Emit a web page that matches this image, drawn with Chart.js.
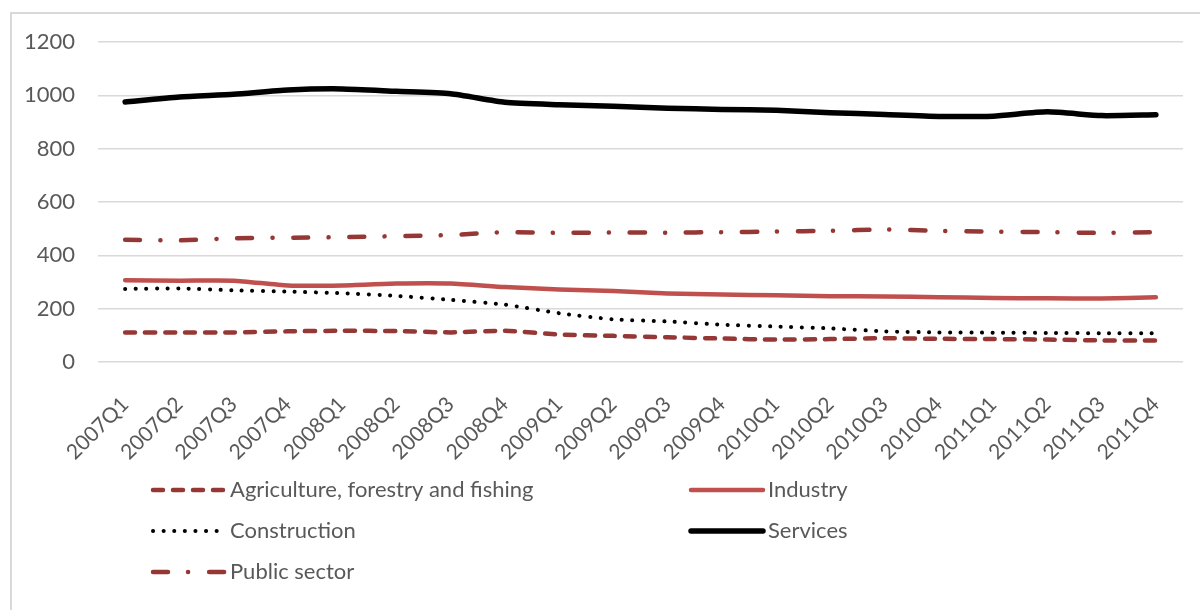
<!DOCTYPE html>
<html>
<head>
<meta charset="utf-8">
<script src="https://cdn.jsdelivr.net/npm/chart.js@4.4.1/dist/chart.umd.min.js"></script>
<style>
  html, body { margin: 0; padding: 0; background: #fff; }
  #frame { position: absolute; left: 10px; top: 12px; width: 1190px; height: 598px;
           border-left: 2px solid #d9d9d9; border-top: 2px solid #d9d9d9; }
  #wrap { position: absolute; left: 0; top: 0; width: 1200px; height: 610px; }
</style>
</head>
<body>
<div id="frame"></div>
<div id="wrap"><canvas id="myChart" width="1200" height="610"></canvas></div>
<script>
// quarters on the x axis
var quarters = ["2007Q1", "2007Q2", "2007Q3", "2007Q4", "2008Q1", "2008Q2", "2008Q3", "2008Q4",
  "2009Q1", "2009Q2", "2009Q3", "2009Q4", "2010Q1", "2010Q2", "2010Q3", "2010Q4",
  "2011Q1", "2011Q2", "2011Q3", "2011Q4"];

// series values
var agriculture = [111, 111, 111, 115, 117, 116, 111, 117, 103, 98, 93, 88, 84, 86, 89, 87, 86, 84, 81, 81];
var industry = [307, 305, 305, 287, 287, 294, 294, 281, 272, 266, 257, 253, 250, 247, 246, 243, 240, 239, 238, 243];
var construction = [274, 276, 269, 264, 258, 248, 233, 215, 183, 160, 152, 140, 133, 126, 115, 111, 110, 109, 108, 108];
var services = [975, 994, 1004, 1020, 1024, 1015, 1006, 974, 965, 959, 952, 947, 944, 935, 928, 921, 922, 938, 924, 927];
var publicSector = [458, 456, 464, 466, 468, 472, 476, 487, 484, 486, 485, 487, 489, 492, 497, 492, 489, 487, 484, 487];

var yTicks = [0, 200, 400, 600, 800, 1000, 1200];

var darkRed = '#953735';
var red = '#c0504d';
var textColor = '#595959';
var fontFamily = 'Lato, "Open Sans", sans-serif';

// legend drawn in two columns like the original
var gridLegend = {
  id: 'gridLegend',
  afterDraw: function (chart) {
    var ctx = chart.ctx;
    var cols = [153, 691];
    var rows = [490, 531, 572];
    chart.data.datasets.forEach(function (ds, i) {
      var x = cols[i % 2];
      var y = rows[Math.floor(i / 2)];
      ctx.save();
      ctx.strokeStyle = ds.borderColor;
      ctx.lineWidth = ds.borderWidth;
      ctx.lineCap = 'round';
      ctx.setLineDash(ds.borderDash || []);
      ctx.beginPath();
      ctx.moveTo(x, y);
      ctx.lineTo(x + 72, y);
      ctx.stroke();
      ctx.setLineDash([]);
      ctx.fillStyle = textColor;
      ctx.font = '22px ' + fontFamily;
      ctx.textBaseline = 'middle';
      ctx.fillText(ds.label, x + 77, y);
      ctx.restore();
    });
  }
};

var ctx = document.getElementById("myChart").getContext('2d');
var myChart = new Chart(ctx, {
  type: 'line',
  data: {
    labels: quarters,
    datasets: [{
      label: "Agriculture, forestry and fishing",
      data: agriculture,
      borderColor: darkRed,
      borderWidth: 4.5,
      borderDash: [10, 10],
      borderCapStyle: 'round'
    }, {
      label: "Industry",
      data: industry,
      borderColor: red,
      borderWidth: 4.5,
      borderCapStyle: 'round'
    }, {
      label: "Construction",
      data: construction,
      borderColor: '#000000',
      borderWidth: 4,
      borderDash: [0.1, 10.5],
      borderCapStyle: 'round'
    }, {
      label: "Services",
      data: services,
      borderColor: '#000000',
      borderWidth: 5.5,
      borderCapStyle: 'round'
    }, {
      label: "Public sector",
      data: publicSector,
      borderColor: darkRed,
      borderWidth: 4.5,
      borderDash: [15, 20, 0.1, 21],
      borderCapStyle: 'round'
    }]
  },
  options: {
    responsive: false,
    animation: false,
    elements: {
      point: { radius: 0 },
      line: { tension: 0.2, fill: false, borderJoinStyle: 'round' }
    },
    layout: { padding: { left: 0, top: 42, right: 17, bottom: 0 } },
    plugins: {
      legend: { display: false },
      tooltip: { enabled: false }
    },
    scales: {
      x: {
        offset: true,
        grid: { display: false },
        border: { display: false },
        ticks: {
          color: textColor,
          font: { size: 21, family: fontFamily },
          minRotation: 45,
          maxRotation: 45,
          autoSkip: false,
          padding: 22
        },
        afterFit: function (scale) { scale.height = 248; }
      },
      y: {
        min: 0,
        max: 1200,
        afterBuildTicks: function (scale) {
          scale.ticks = yTicks.map(function (v) { return { value: v }; });
        },
        grid: { color: '#d9d9d9', lineWidth: 1.5, drawTicks: false },
        border: { display: false },
        ticks: {
          color: textColor,
          font: { size: 22, family: fontFamily },
          padding: 23,
          callback: function (value) { return String(value); }
        },
        afterFit: function (scale) { scale.width = 98; }
      }
    }
  },
  plugins: [gridLegend]
});
</script>
</body>
</html>
